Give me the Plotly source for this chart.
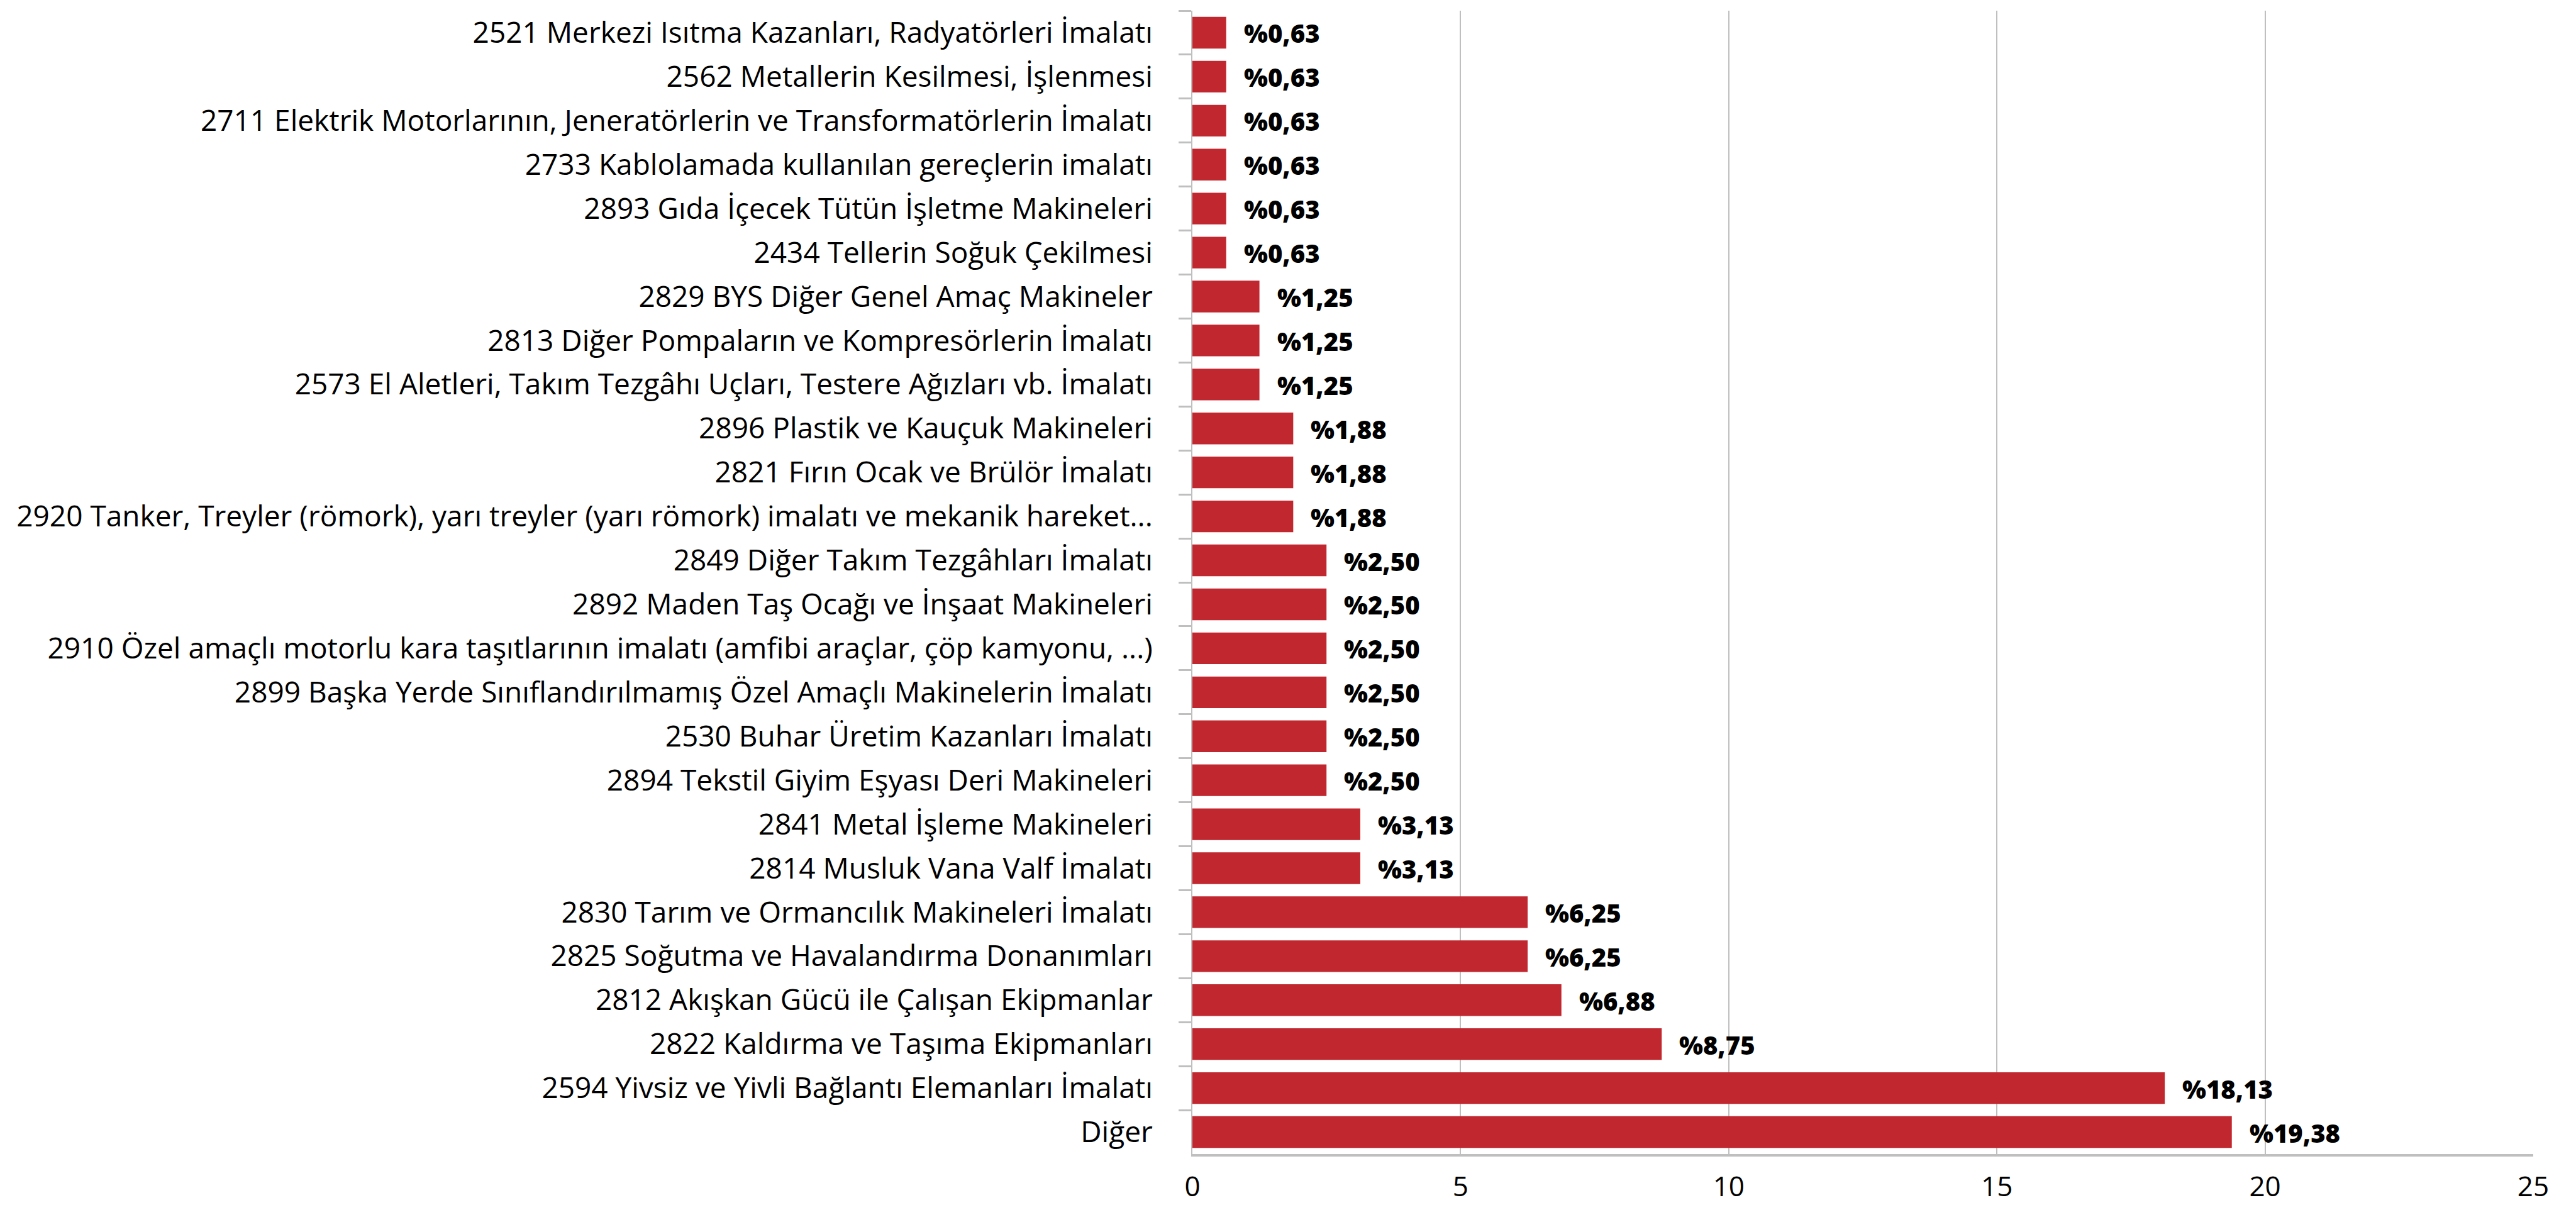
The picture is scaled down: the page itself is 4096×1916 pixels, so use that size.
import plotly.graph_objects as go

categories = [
    "2521 Merkezi Isıtma Kazanları, Radyatörleri İmalatı",
    "2562 Metallerin Kesilmesi, İşlenmesi",
    "2711 Elektrik Motorlarının, Jeneratörlerin ve Transformatörlerin İmalatı",
    "2733 Kablolamada kullanılan gereçlerin imalatı",
    "2893 Gıda İçecek Tütün İşletme Makineleri",
    "2434 Tellerin Soğuk Çekilmesi",
    "2829 BYS Diğer Genel Amaç Makineler",
    "2813 Diğer Pompaların ve Kompresörlerin İmalatı",
    "2573 El Aletleri, Takım Tezgâhı Uçları, Testere Ağızları vb. İmalatı",
    "2896 Plastik ve Kauçuk Makineleri",
    "2821 Fırın Ocak ve Brülör İmalatı",
    "2920 Tanker, Treyler (römork), yarı treyler (yarı römork) imalatı ve mekanik hareket...",
    "2849 Diğer Takım Tezgâhları İmalatı",
    "2892 Maden Taş Ocağı ve İnşaat Makineleri",
    "2910 Özel amaçlı motorlu kara taşıtlarının imalatı (amfibi araçlar, çöp kamyonu, ...)",
    "2899 Başka Yerde Sınıflandırılmamış Özel Amaçlı Makinelerin İmalatı",
    "2530 Buhar Üretim Kazanları İmalatı",
    "2894 Tekstil Giyim Eşyası Deri Makineleri",
    "2841 Metal İşleme Makineleri",
    "2814 Musluk Vana Valf İmalatı",
    "2830 Tarım ve Ormancılık Makineleri İmalatı",
    "2825 Soğutma ve Havalandırma Donanımları",
    "2812 Akışkan Gücü ile Çalışan Ekipmanlar",
    "2822 Kaldırma ve Taşıma Ekipmanları",
    "2594 Yivsiz ve Yivli Bağlantı Elemanları İmalatı",
    "Diğer",
]
values = [0.63, 0.63, 0.63, 0.63, 0.63, 0.63, 1.25, 1.25, 1.25, 1.88, 1.88, 1.88,
          2.50, 2.50, 2.50, 2.50, 2.50, 2.50, 3.13, 3.13, 6.25, 6.25, 6.88, 8.75,
          18.13, 19.38]
x_ticks = [0, 5, 10, 15, 20, 25]

BAR = "#C1272F"
GRID = "#BFBFBF"
FONT = "Open Sans"

labels = ["%" + f"{v:.2f}".replace(".", ",") for v in values]

fig = go.Figure(go.Bar(
    x=values, y=categories, orientation="h",
    marker=dict(color=BAR, line=dict(width=0)),
    hoverinfo="skip",
))

for v, c, t in zip(values, categories, labels):
    fig.add_annotation(x=v, y=c, text=t, showarrow=False,
                       xanchor="left", yanchor="middle", xshift=26, yshift=-1,
                       font=dict(family=FONT, size=40, color="#000000", weight=800))

fig.update_layout(
    width=4096, height=1916,
    paper_bgcolor="white", plot_bgcolor="white",
    margin=dict(l=1888, r=76, t=9, b=68),
    bargap=0.28,
    showlegend=False,
    font=dict(family=FONT, color="#000000"),
)
fig.update_xaxes(
    range=[0, 25], tickvals=x_ticks, ticktext=[str(t) for t in x_ticks],
    showgrid=True, gridcolor=GRID, gridwidth=2,
    showline=True, linecolor=GRID, linewidth=4,
    zeroline=False, ticks="", ticklabelstandoff=10,
    tickfont=dict(family=FONT, size=44, color="#000000"),
    fixedrange=True,
)
fig.update_yaxes(
    autorange="reversed", type="category",
    showgrid=False, showline=True, linecolor=GRID, linewidth=2,
    ticks="outside", tickson="boundaries", ticklen=20, tickwidth=3, tickcolor=GRID,
    ticklabelstandoff=52,
    tickfont=dict(family=FONT, size=46, color="#000000"),
    fixedrange=True,
)

fig.write_html("out.html")
